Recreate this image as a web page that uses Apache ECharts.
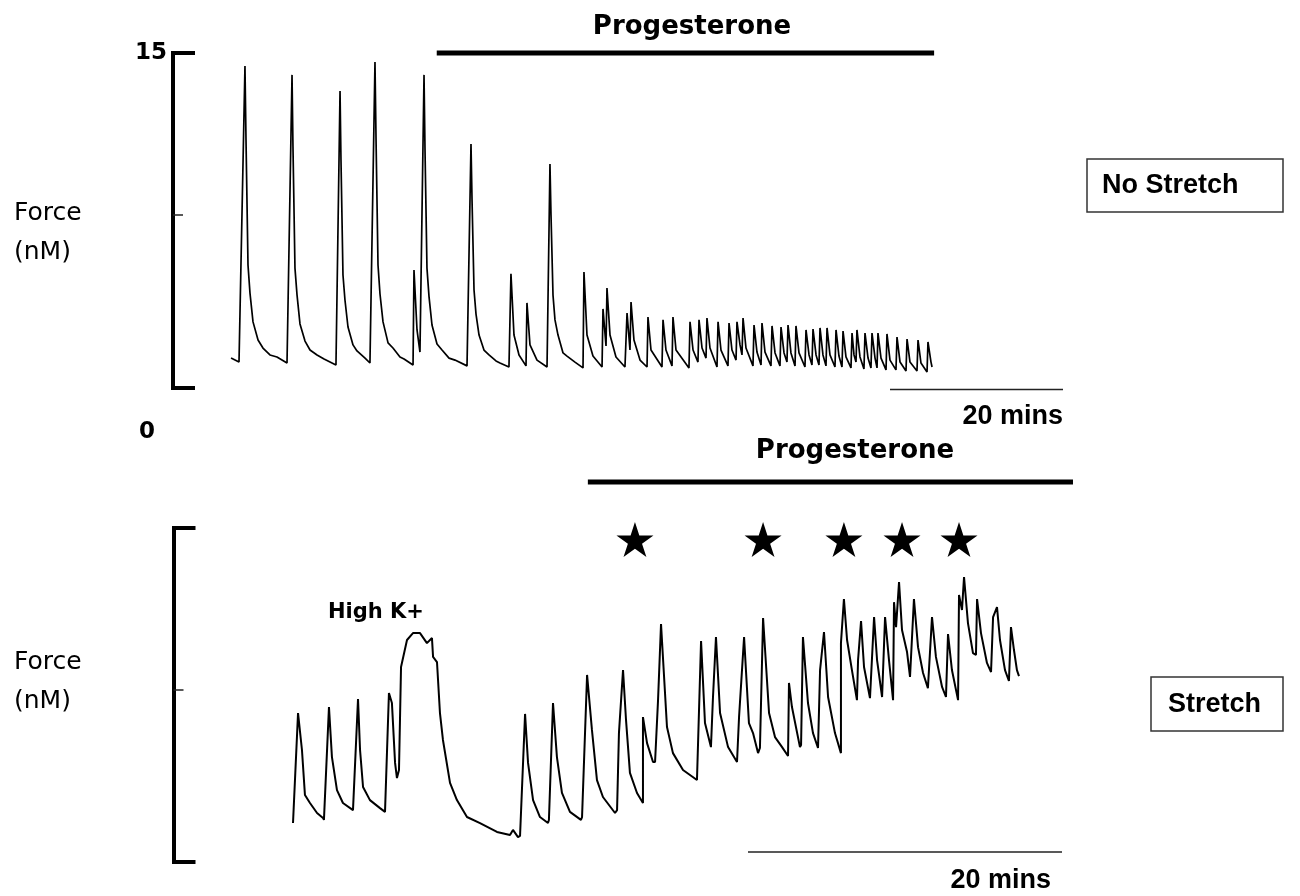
<!DOCTYPE html>
<html>
<head>
<meta charset="utf-8">
<script src="https://cdn.jsdelivr.net/npm/echarts/dist/echarts.min.js"></script>
<style>
  html, body { margin: 0; padding: 0; background: #fff; }
  #chart { width: 1300px; height: 896px; }
</style>
</head>
<body>
<div id="chart"></div>
<script>
// ---------- DATA (time in minutes, force in nM) ----------
// Top trace: No Stretch
const topTime = [3.82,4.74,5.43,5.55,5.78,6.01,6.36,6.94,7.51,8.32,9.13,10.29,
  10.87,10.98,11.21,11.45,11.79,12.37,12.95,13.76,14.57,15.95,
  16.42,16.53,16.76,16.99,17.34,17.92,18.38,19.31,19.88,
  20.46,20.58,20.81,21.04,21.39,21.97,22.54,23.35,23.82,24.86,
  24.97,25.32,25.66,26.13,26.24,26.47,26.71,27.05,27.63,28.21,29.02,29.71,31.10,
  31.56,31.68,31.91,32.14,32.49,33.06,33.64,34.45,34.91,35.95,
  36.18,36.53,37.11,37.92, 38.03,38.38,39.19,40.35,
  40.69,40.81,41.04,41.27,41.62,42.20,42.66,43.58,44.51,
  44.62,44.97,45.66,46.71, 46.82,47.17,47.28,47.63,48.32,49.36, 49.60,49.94,50.06,50.40,51.10,51.91,
  52.02,52.37,53.64, 53.76,54.10,54.80, 54.91,55.26,56.76, 56.88,57.23,57.80, 57.92,58.27,58.73, 58.84,59.19,60.00, 60.12,60.46,61.27, 61.39,61.73,62.20, 62.31,62.66,62.89, 63.01,63.35,64.16, 64.28,64.62,65.09, 65.20,65.55,66.24, 66.36,66.71,67.28, 67.40,67.75,68.09, 68.21,68.55,69.02, 69.13,69.48,70.17, 70.29,70.64,70.98, 71.10,71.45,71.79, 71.91,72.25,72.60, 72.72,73.06,73.64, 73.76,74.10,74.45, 74.57,74.91,75.49, 75.61,75.84,76.07, 76.18,76.53,76.99, 77.11,77.46,77.80, 77.92,78.27,78.50, 78.61,78.96,79.54, 79.65,80.00,80.69, 80.81,81.16,81.85, 81.97,82.31,83.12, 83.24,83.58,84.28, 84.39,84.74,84.86];
const topForce = [1.34,1.16,14.42,11.11,5.51,4.25,2.96,2.15,1.79,1.48,1.39,1.12,
  14.02,10.79,5.37,4.16,2.87,2.10,1.70,1.48,1.30,1.03,
  13.30,10.21,5.06,3.94,2.73,1.93,1.66,1.34,1.12,
  14.60,11.20,5.51,4.21,2.96,2.02,1.79,1.39,1.30,1.03,
  5.28,2.60,1.61,14.02,10.75,5.37,4.08,2.82,1.97,1.70,1.34,1.25,0.99,
  10.93,8.42,4.39,3.31,2.37,1.70,1.48,1.21,1.12,0.94,
  5.11,2.37,1.48,0.99, 3.81,1.93,1.25,0.94,
  10.03,7.75,4.16,3.05,2.37,1.57,1.43,1.16,0.90,
  5.19,2.37,1.43,0.94, 3.54,1.88,4.48,2.37,1.39,0.94, 3.36,1.70,3.85,2.15,1.25,0.94,
  3.18,1.70,0.94, 3.05,1.70,0.99, 3.18,1.70,0.90, 2.96,1.70,1.16, 3.05,1.79,1.34, 3.13,1.79,0.94, 2.96,1.70,0.99, 2.91,1.70,1.25, 2.96,1.93,1.48, 3.13,1.79,0.99, 2.82,1.61,1.03, 2.91,1.61,0.99, 2.78,1.57,0.99, 2.73,1.57,1.16, 2.82,1.57,0.99, 2.78,1.57,0.94, 2.60,1.48,1.03, 2.64,1.48,1.03, 2.69,1.48,0.99, 2.69,1.48,0.94, 2.60,1.43,0.94, 2.55,1.39,0.90, 2.46,1.48,1.16, 2.60,1.39,0.85, 2.46,1.34,0.90, 2.46,1.34,0.90, 2.46,1.34,0.81, 2.42,1.25,0.81, 2.28,1.16,0.76, 2.19,1.16,0.76, 2.15,1.12,0.72, 2.06,1.16,0.94];

// Bottom trace: Stretch
const bottomTime = [6.02,6.34,6.59,6.78,7.10,7.55,7.93, 7.99,8.31,8.50,8.82,9.20,9.84, 9.90,10.16,10.29,10.48,10.92,11.56,11.88, 11.94,12.13,12.32,12.52,12.64, 12.77,12.90,13.28,13.66,14.11,14.55,14.87,14.94,15.19,15.38,15.57,16.02,16.46,17.10,17.93,19.01,19.84,20.03,20.35, 20.48,20.80,20.99,21.31,21.75,22.26, 22.32,22.58,22.83,23.15,23.66,24.36, 24.43,24.75,25.06,25.38,25.76,26.53, 26.66,26.78,27.04,27.23,27.48,27.93,28.31, 28.31,28.57,28.95, 29.08,29.27,29.46,29.84,30.22,30.86,31.75, 32.01,32.26,32.64, 32.77,32.96,33.22,33.73,34.30, 34.43,34.75,35.06,35.32,35.64, 35.76,35.96,36.34,36.72,37.17,37.55, 37.61,37.80,38.31, 38.38,38.50,38.82,39.14,39.46, 39.59,39.84,40.10,40.54,40.92, 40.92,41.11,41.31,41.62,41.94, 42.01,42.20,42.39,42.77, 43.03,43.22,43.54, 43.73,43.98,44.24, 44.30,44.43,44.62,44.81,45.13,45.32, 45.57,45.83,46.15,46.46, 46.72,46.97,47.36,47.61, 47.74,47.99,48.38, 48.44,48.63,48.76,49.01,49.33,49.52, 49.59,49.84,50.22,50.48, 50.61,50.86,51.05,51.37,51.62, 51.75,51.94,52.13,52.26];
const bottomForce = [1.75,6.69,5.03,3.01,2.65,2.20,1.98, 1.89,6.96,4.71,3.23,2.65,2.33, 2.25,7.32,5.03,3.37,2.78,2.42,2.25, 2.33,7.59,7.14,4.45,3.77, 4.13,8.76,9.97,10.28,10.28,9.83,10.06,9.21,8.98,6.69,5.48,3.55,2.78,2.02,1.75,1.35,1.21,1.44,1.12, 1.17,6.65,4.45,2.78,2.02,1.75, 1.89,7.14,4.71,3.10,2.25,1.89, 2.02,8.40,5.93,3.68,2.92,2.20, 2.33,5.79,8.62,6.38,4.00,3.10,2.65, 6.51,5.34,4.49, 4.49,7.27,10.69,6.06,4.89,4.13,3.68, 9.92,6.24,5.16, 7.41,10.10,6.69,5.16,4.49, 6.51,10.10,6.24,5.79,4.89, 5.12,10.96,6.69,5.61,5.16,4.76, 8.04,6.96,5.16, 5.25,10.10,7.14,5.79,5.12, 8.62,10.33,7.41,5.79,4.89, 9.83,11.81,9.97,8.62,7.27, 9.07,10.82,8.76,7.36, 11.00,9.07,7.41, 11.00,9.07,7.27, 11.67,10.55,12.57,10.42,9.43,8.31, 11.81,9.65,8.49,7.81, 11.00,9.21,7.86,7.41, 10.24,8.62,7.27, 11.99,11.32,12.80,10.73,9.38,9.30, 11.81,10.28,8.94,8.53, 11.00,11.45,9.97,8.62,8.13, 10.55,9.52,8.62,8.35];

// Annotations
const yTickLabels = ['15', '0'];
const yAxisTitle = ['Force', '(nM)'];
const progesteroneTop = [27.6, 85.1];     // minutes
const progesteroneBottom = [24.8, 55.7];  // minutes
const scaleBarTop = [80, 100];            // 20 mins
const scaleBarBottom = [35, 55];          // 20 mins
const starTimes = [27.80, 35.96, 41.11, 44.81, 48.44];
const starLevel = 14.48;
const panelLabels = ['No Stretch', 'Stretch'];

// ---------- CHART ----------
const zip = (a, b) => a.slice(0, Math.min(a.length, b.length)).map((v, i) => [v, b[i]]);
const STAR = 'path://M10,0 L12.245,6.91 L19.51,6.91 L13.633,11.18 L15.88,18.09 L10,13.82 L4.12,18.09 L6.367,11.18 L0.49,6.91 L7.755,6.91 Z';

const bracketAxis = (gridIndex, labelShow) => ({
  type: 'value', gridIndex, min: 0, max: 15, offset: 25, position: 'left',
  axisLine: { show: true, onZero: false, lineStyle: { color: '#000', width: 4, cap: 'square' } },
  axisTick: { show: true, inside: true, length: 22, customValues: [0, 15], lineStyle: { color: '#000', width: 4 } },
  axisLabel: labelShow ? {
    show: true, customValues: [15], margin: 6, color: '#000',
    fontFamily: 'DejaVu Sans', fontWeight: 'bold', fontSize: 23, padding: [0, 0, 10, 0],
    formatter: () => yTickLabels[0]
  } : { show: false },
  splitLine: { show: false }
});
const midTickAxis = (gridIndex) => ({
  type: 'value', gridIndex, min: 0, max: 15, offset: 25, position: 'left',
  axisLine: { show: false, onZero: false },
  axisTick: { show: true, inside: true, length: 10, customValues: [7.75], lineStyle: { color: '#222', width: 1.5 } },
  axisLabel: { show: false }, splitLine: { show: false }
});

const chart = echarts.init(document.getElementById('chart'), null, { renderer: 'canvas' });
chart.setOption({
  animation: false,
  backgroundColor: '#fff',
  grid: [
    { left: 198, top: 53, width: 865, height: 335 },
    { left: 198.5, top: 528, width: 863.5, height: 334 }
  ],
  xAxis: [
    { type: 'value', gridIndex: 0, min: 0, max: 100, show: false },
    { type: 'value', gridIndex: 1, min: 0, max: 55, show: false }
  ],
  yAxis: [
    bracketAxis(0, true),
    midTickAxis(0),
    bracketAxis(1, false),
    midTickAxis(1)
  ],
  series: [
    { name: 'No Stretch', type: 'line', xAxisIndex: 0, yAxisIndex: 0, data: zip(topTime, topForce),
      showSymbol: false, smooth: false, lineStyle: { color: '#000', width: 1.7 }, silent: true },
    { name: 'Stretch', type: 'line', xAxisIndex: 1, yAxisIndex: 2, data: zip(bottomTime, bottomForce),
      showSymbol: false, smooth: false, lineStyle: { color: '#000', width: 2 }, silent: true },
    { name: 'stars', type: 'scatter', xAxisIndex: 1, yAxisIndex: 2, data: starTimes.map(t => [t, starLevel]),
      symbol: STAR, symbolSize: [37, 35], itemStyle: { color: '#000', opacity: 1 }, silent: true }
  ]
});

const px = (gi, t) => chart.convertToPixel({ gridIndex: gi }, [t, 0])[0];
const hline = (x1, x2, y, w, c) => ({ type: 'line', shape: { x1, y1: y, x2, y2: y }, style: { stroke: c, lineWidth: w }, silent: true });
const txt = (text, x, y, font, align) => ({ type: 'text', x, y, style: { text, font, fill: '#000', align: align || 'center', verticalAlign: 'middle' }, silent: true });
const F_AXIS = '25px "DejaVu Sans"';

chart.setOption({
  graphic: [
    txt(yAxisTitle[0], 14, 213, F_AXIS, 'left'),
    txt(yAxisTitle[1], 14, 252, F_AXIS, 'left'),
    txt(yAxisTitle[0], 14, 662, F_AXIS, 'left'),
    txt(yAxisTitle[1], 14, 701, F_AXIS, 'left'),
    hline(px(0, progesteroneTop[0]), px(0, progesteroneTop[1]), 53, 5, '#000'),
    txt('Progesterone', 692, 27, 'bold 26px "DejaVu Sans"'),
    hline(px(1, progesteroneBottom[0]), px(1, progesteroneBottom[1]), 482, 5, '#000'),
    txt('Progesterone', 855, 451, 'bold 26px "DejaVu Sans"'),
    hline(px(0, scaleBarTop[0]), px(0, scaleBarTop[1]), 389.5, 1.5, '#222'),
    txt('20 mins', 1063, 417, 'bold 27px "Liberation Sans"', 'right'),
    hline(px(1, scaleBarBottom[0]), px(1, scaleBarBottom[1]), 852, 1.5, '#222'),
    txt('20 mins', 1051, 881, 'bold 27px "Liberation Sans"', 'right'),
    txt(yTickLabels[1], 147, 432, 'bold 23px "DejaVu Sans"'),
    txt('High K+', 376, 613, 'bold 21px "DejaVu Sans"'),
    { type: 'rect', shape: { x: 1087, y: 159, width: 196, height: 53 }, style: { fill: '#fff', stroke: '#333', lineWidth: 1.5 }, silent: true },
    txt(panelLabels[0], 1102, 186, 'bold 27px "Liberation Sans"', 'left'),
    { type: 'rect', shape: { x: 1151, y: 677, width: 132, height: 54 }, style: { fill: '#fff', stroke: '#333', lineWidth: 1.5 }, silent: true },
    txt(panelLabels[1], 1168, 705, 'bold 27px "Liberation Sans"', 'left')
  ]
});
</script>
</body>
</html>
